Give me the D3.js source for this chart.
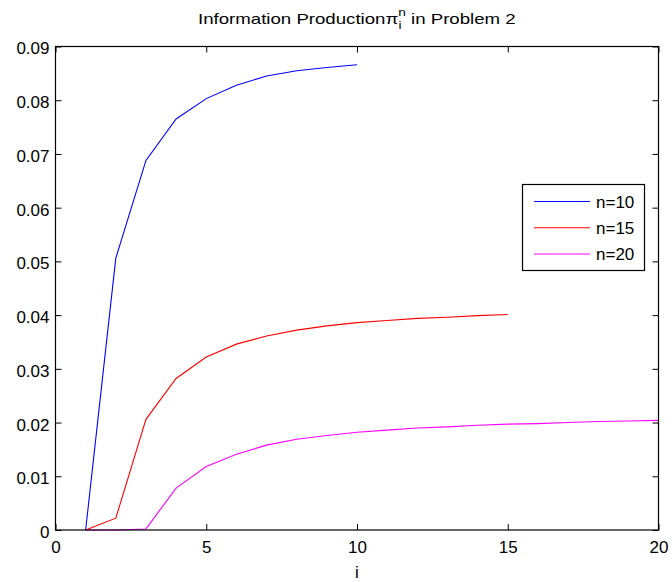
<!DOCTYPE html>
<html><head><meta charset="utf-8">
<script src="https://cdn.jsdelivr.net/npm/d3@7"></script>
<style>
body{margin:0;background:#fff}
svg{display:block}
text{font-family:Arial,"Liberation Sans",Helvetica,sans-serif;fill:#000}
</style>
</head><body>
<svg id="chart" width="672" height="582"></svg>
<script>
// ---- data ----
const seriesNames = ["n=10", "n=15", "n=20"];
const seriesColors = ["#0000ff", "#ff0000", "#ff00ff"];
const iN10 = [1,2,3,4,5,6,7,8,9,10];
const piN10 = [0, 0.0506, 0.0688, 0.0765, 0.0803, 0.0828, 0.0845, 0.0855, 0.0861, 0.0866];
const iN15 = [1,2,3,4,5,6,7,8,9,10,11,12,13,14,15];
const piN15 = [0, 0.0022, 0.0206, 0.0282, 0.0322, 0.0346, 0.0361, 0.0372, 0.0380, 0.0386, 0.0390, 0.0394, 0.0396, 0.0399, 0.0401];
const iN20 = [1,2,3,4,5,6,7,8,9,10,11,12,13,14,15,16,17,18,19,20];
const piN20 = [0, 0, 0.0002, 0.0078, 0.0118, 0.0141, 0.0158, 0.0169, 0.0176, 0.0182, 0.0186, 0.0190, 0.0192, 0.0195, 0.0197, 0.0198, 0.0200, 0.0202, 0.0203, 0.0204];
const xTicks = [0, 5, 10, 15, 20];
const yTicks = [0, 0.01, 0.02, 0.03, 0.04, 0.05, 0.06, 0.07, 0.08, 0.09];
const xLabel = "i";

const series = [
  {name: seriesNames[0], color: seriesColors[0], xs: iN10, ys: piN10},
  {name: seriesNames[1], color: seriesColors[1], xs: iN15, ys: piN15},
  {name: seriesNames[2], color: seriesColors[2], xs: iN20, ys: piN20}
];

// ---- layout ----
const L = 55.5, R = 658.5, T = 46.5, B = 530;
const svg = d3.select("#chart");
const x = d3.scaleLinear().domain([0, 20]).range([L, R]);
const y = d3.scaleLinear().domain([0, 0.09]).range([B, T]);
const tickLen = 6;
const fs = 17;

// lines
const line = d3.line().x(d => x(d[0])).y(d => y(d[1]));
series.forEach(s => {
  svg.append("path")
    .datum(s.xs.map((v, k) => [v, s.ys[k]]))
    .attr("d", line)
    .attr("fill", "none")
    .attr("stroke", s.color)
    .attr("stroke-width", 1.1);
});

// axes (inward ticks, box)
const gx = svg.append("g").attr("transform", `translate(0,${B})`)
  .call(d3.axisBottom(x).tickValues(xTicks).tickSizeInner(-tickLen).tickSizeOuter(0).tickPadding(11).tickFormat(d3.format("d")));
const gxTop = svg.append("g").attr("transform", `translate(0,${T})`)
  .call(d3.axisTop(x).tickValues(xTicks).tickSizeInner(-tickLen).tickSizeOuter(0).tickFormat(""));
const gy = svg.append("g").attr("transform", `translate(${L},0)`)
  .call(d3.axisLeft(y).tickValues(yTicks).tickSizeInner(-tickLen).tickSizeOuter(0).tickPadding(6).tickFormat(d => d === 0 ? "0" : d3.format(".2f")(d)));
const gyR = svg.append("g").attr("transform", `translate(${R},0)`)
  .call(d3.axisRight(y).tickValues(yTicks).tickSizeInner(-tickLen).tickSizeOuter(0).tickFormat(""));

[gx, gxTop, gy, gyR].forEach(g => {
  g.select(".domain").remove();
  g.selectAll(".tick line").attr("stroke", "#000").attr("stroke-width", 1);
  g.selectAll("text").attr("font-size", fs).attr("font-family", 'Arial,"Liberation Sans",sans-serif').attr("fill", "#000");
});
gx.selectAll(".tick text").attr("dy", "0.71em");
gy.selectAll(".tick text").attr("dy", "0.44em");

svg.append("rect").attr("x", L).attr("y", T).attr("width", R - L).attr("height", B - T)
  .attr("fill", "none").attr("stroke", "#000").attr("stroke-width", 1.2);

// x label
svg.append("text").attr("x", (L + R) / 2).attr("y", 578).attr("text-anchor", "middle")
  .attr("font-size", fs).text(xLabel);

// title
const title = svg.append("text").attr("x", 0).attr("y", 0).attr("font-size", 15).style("white-space", "pre");
title.append("tspan").text("Information Production");
title.append("tspan").text("π");
title.append("tspan").attr("font-size", 11).attr("dy", -8).text("n");
title.append("tspan").attr("font-size", 11).attr("dx", -6).attr("dy", 13).text("i");
title.append("tspan").attr("dx", 3.5).attr("dy", -5).text(" in Problem 2");
const tw = title.node().getComputedTextLength ? title.node().getBBox().width : 300;
const targetW = 318;
const sx = targetW / tw;
title.attr("transform", `translate(${(L + R) / 2 - targetW / 2},24) scale(${sx},1)`);

// legend
const lg = svg.append("g");
lg.append("rect").attr("x", 522.5).attr("y", 184.5).attr("width", 122).attr("height", 86)
  .attr("fill", "#fff").attr("stroke", "#000").attr("stroke-width", 1.2);
const rowY = d3.scaleLinear().domain([0, 2]).range([201.5, 254]);
series.forEach((s, k) => {
  lg.append("line").attr("x1", 534).attr("x2", 590).attr("y1", rowY(k)).attr("y2", rowY(k))
    .attr("stroke", s.color).attr("stroke-width", 1.1);
  lg.append("text").attr("x", 596).attr("y", rowY(k) + 6.2).attr("font-size", fs).text(s.name);
});
</script>
</body></html>
